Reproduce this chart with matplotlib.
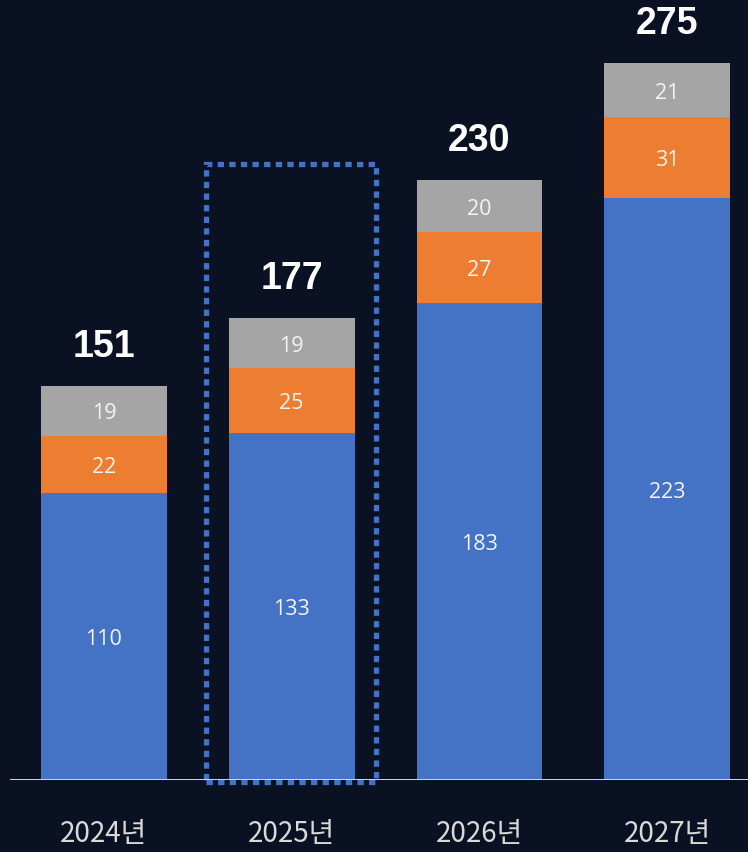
import matplotlib
matplotlib.use("Agg")
import matplotlib.pyplot as plt
from matplotlib.patches import Rectangle

categories = ["2024년", "2025년", "2026년", "2027년"]
blue_vals = [110, 133, 183, 223]
orange_vals = [22, 25, 27, 31]
gray_vals = [19, 19, 20, 21]
totals = [151, 177, 230, 275]

BG = "#0a1122"
C_BLUE = "#4472C4"
C_ORANGE = "#ED7D31"
C_GRAY = "#A5A5A5"

fig = plt.figure(figsize=(7.48, 8.52), dpi=100, facecolor=BG)
ax = fig.add_axes([10/748, (852-780)/852, 738/748, 780/852])
ax.set_facecolor(BG)
ax.set_xlim(-0.5, 3.43)
ax.set_ylim(0, 299)

x = list(range(len(categories)))
w = 0.67
ax.bar(x, blue_vals, width=w, color=C_BLUE, zorder=3)
bottom2 = blue_vals
ax.bar(x, orange_vals, width=w, bottom=bottom2, color=C_ORANGE, zorder=3)
bottom3 = [a + b for a, b in zip(blue_vals, orange_vals)]
ax.bar(x, gray_vals, width=w, bottom=bottom3, color=C_GRAY, zorder=3)

seg_font = dict(family=["Open Sans", "DejaVu Sans"], fontsize=15.5, color="#f4f4f4",
                ha="center", va="center", zorder=5)
for i in x:
    ax.text(i, blue_vals[i] / 2 - 1.2, str(blue_vals[i]), **seg_font)
    ax.text(i, bottom2[i] + orange_vals[i] / 2 - 1.2, str(orange_vals[i]), **seg_font)
    ax.text(i, bottom3[i] + gray_vals[i] / 2 - 1.2, str(gray_vals[i]), **seg_font)
    ax.text(i, totals[i] + 8, str(totals[i]), family=["Liberation Sans", "DejaVu Sans"],
            fontsize=27, fontweight="bold", color="white", ha="center", va="bottom", zorder=5)

# dotted highlight box around 2025
rect = Rectangle((0.544, -0.8), 0.906, 236.8, fill=False, edgecolor=C_BLUE,
                 linewidth=3.8, linestyle=(0, (1.2, 1.0)), clip_on=False, zorder=4)
ax.add_patch(rect)

# baseline
ax.axhline(0, color="#d8d8d8", linewidth=1.4, zorder=6)

for s in ax.spines.values():
    s.set_visible(False)
ax.set_yticks([])
ax.set_xticks(x)
ax.set_xticklabels(categories, family=["Noto Sans CJK KR", "DejaVu Sans"],
                   fontsize=20, color="#d9d9d9")
ax.tick_params(axis="x", length=0, pad=28)

fig.savefig("out.png", dpi=100, facecolor=BG)
